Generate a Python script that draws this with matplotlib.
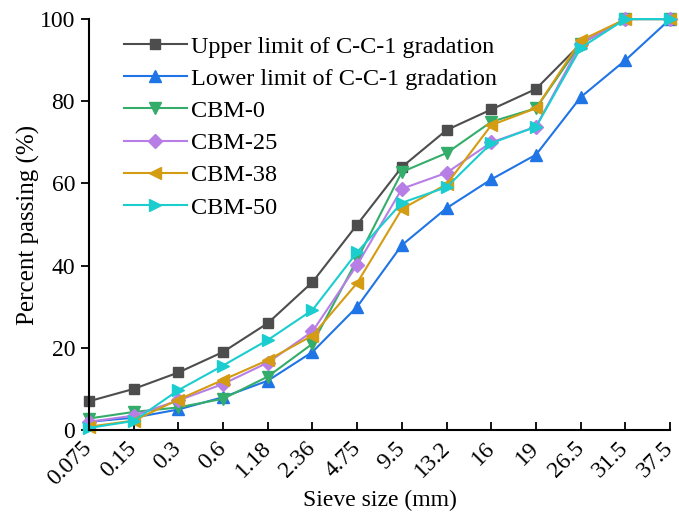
import numpy as np
import matplotlib.pyplot as plt
import matplotlib.transforms as mtransforms

plt.rcParams['font.family'] = ['Liberation Serif', 'DejaVu Serif']

sieve = ["0.075", "0.15", "0.3", "0.6", "1.18", "2.36", "4.75",
         "9.5", "13.2", "16", "19", "26.5", "31.5", "37.5"]

upper = [7, 10, 14, 19, 26, 36, 50, 64, 73, 78, 83, 94, 100, 100]
lower = [2, 3, 5, 8, 12, 19, 30, 45, 54, 61, 67, 81, 90, 100]
cbm0 = [2.8, 4.4, 5.5, 7.6, 13, 21, 41.5, 62.8, 67.4, 75, 78.3, 94, 100, 100]
cbm25 = [2, 3.5, 7.2, 11.2, 16.4, 24, 40.2, 58.7, 62.6, 70, 73.8, 94, 100, 100]
cbm38 = [0.8, 2.3, 7.4, 12.2, 17, 23, 35.8, 53.8, 59.8, 74.2, 78.3, 94.8, 100, 100]
cbm50 = [0.5, 2.2, 9.7, 15.7, 21.9, 29.2, 43.3, 55.3, 59.1, 69.8, 73.8, 93, 100, 100]

x = np.arange(len(sieve))

fig, ax = plt.subplots(figsize=(6.79, 5.15), dpi=100)
fig.subplots_adjust(left=0.131, right=0.987, bottom=0.165, top=0.963)

ax.plot(x, upper, color="#4d4d4d", marker="s", ms=7, lw=1.5,
        label="Upper limit of C-C-1 gradation")
ax.plot(x, lower, color="#1f74e6", marker="^", ms=9, lw=1.5,
        label="Lower limit of C-C-1 gradation")
ax.plot(x, cbm0, color="#35ad6a", marker="v", ms=9, lw=1.5, label="CBM-0")
ax.plot(x, cbm25, color="#b77fe6", marker="D", ms=7, lw=1.5, label="CBM-25")
ax.plot(x, cbm38, color="#d49c12", marker="<", ms=9, lw=1.5, label="CBM-38")
ax.plot(x, cbm50, color="#1ccdd0", marker=">", ms=9, lw=1.5, label="CBM-50")

ax.set_xlim(0, len(sieve) - 1)
ax.set_ylim(0, 100)
ax.set_xticks(x)
ax.set_xticklabels(sieve, rotation=45, ha="right", va="center",
                   rotation_mode="anchor")
shift = mtransforms.ScaledTranslation(0.08, 0, fig.dpi_scale_trans)
for lab in ax.get_xticklabels():
    lab.set_transform(lab.get_transform() + shift)
ax.set_yticks(range(0, 101, 20))
ax.tick_params(axis="x", direction="in", length=6, width=1.3, labelsize=17, pad=11)
ax.tick_params(axis="y", direction="out", length=6, width=1.3, labelsize=17, pad=4)
ax.spines["top"].set_visible(False)
ax.spines["right"].set_visible(False)
ax.spines["left"].set_linewidth(1.5)
ax.spines["bottom"].set_linewidth(1.5)
for ln in ax.lines:
    ln.set_clip_on(False)

ax.set_xlabel("Sieve size (mm)", fontsize=17, labelpad=0)
ax.set_ylabel("Percent passing (%)", fontsize=18, labelpad=0)

ax.legend(loc="upper left", bbox_to_anchor=(0.06, 0.96), frameon=False,
          fontsize=17.5, handlelength=2.6, labelspacing=0.42,
          handletextpad=0.15, borderpad=0, borderaxespad=0)

fig.savefig("out.png")
